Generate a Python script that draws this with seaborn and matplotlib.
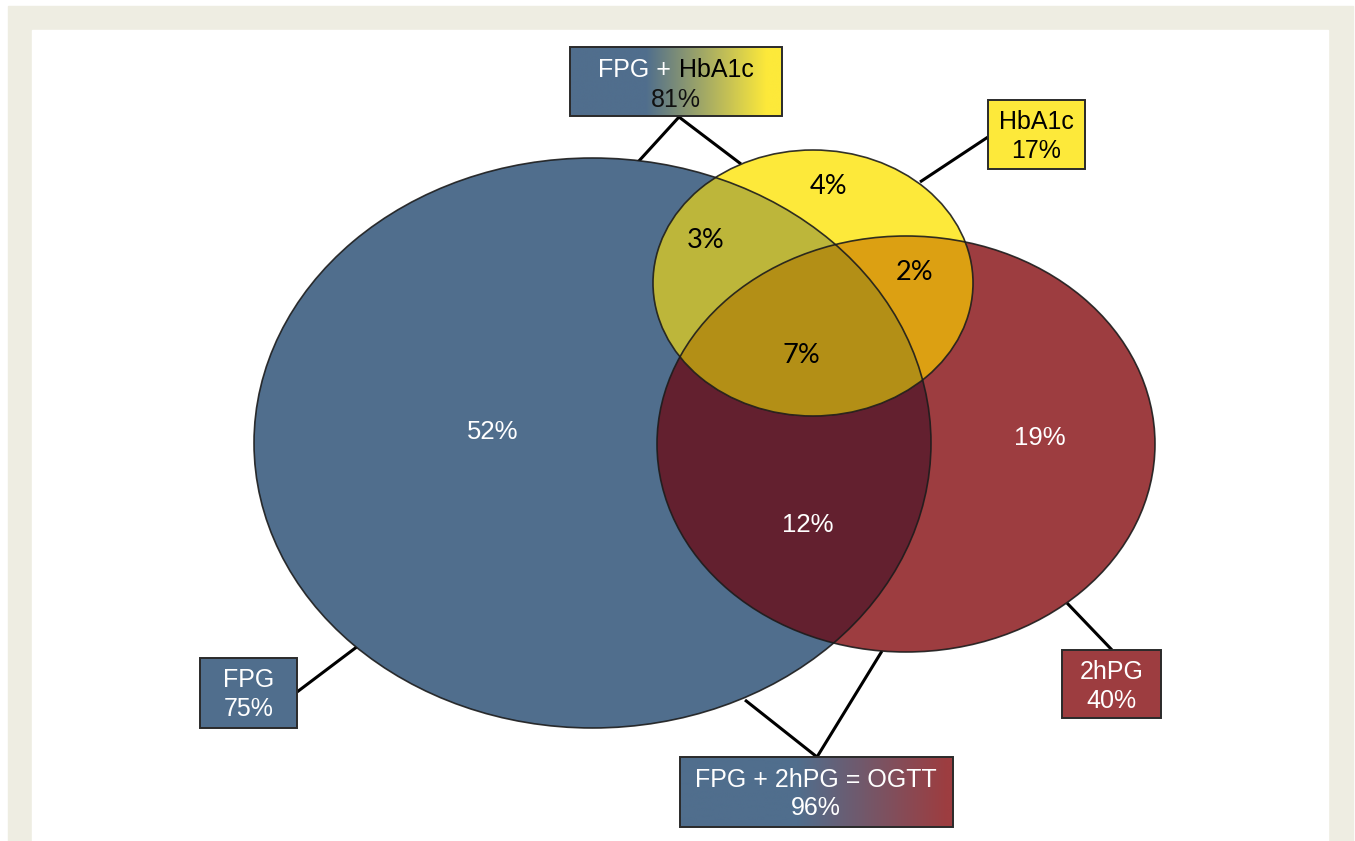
import numpy as np
import pandas as pd
import seaborn as sns
import matplotlib.pyplot as plt
from matplotlib.patches import Ellipse, Polygon, Rectangle
from matplotlib.colors import LinearSegmentedColormap

# --- data -------------------------------------------------------------
set_names = ['FPG', 'HbA1c', '2hPG']
set_totals = [75, 17, 40]

combo_names = ['FPG + HbA1c', 'FPG + 2hPG = OGTT']
combo_totals = [81, 96]

region_keys = ['F', 'H', 'P', 'FH', 'HP', 'FP', 'FHP']
region_values = [52, 4, 19, 3, 2, 12, 7]

# --- style ------------------------------------------------------------
sns.set_style('white')
plt.rcParams['font.family'] = ['Liberation Sans', 'DejaVu Sans']

blue = '#506E8D'
red = '#9D3D40'
yellow = '#FDE93A'
region_colors = {'F': blue, 'H': yellow, 'P': red,
                 'FH': '#BDB63A', 'HP': '#DCA012', 'FP': '#63202F', 'FHP': '#B38F16'}
edge = '#1c1c1c'

# ellipse geometry in pixel space (cx, cy, w, h)
geom = {'F': (592.5, 443, 677, 570),
        'P': (906, 444, 498, 416),
        'H': (813, 283, 320, 266)}


def ell_pts(e, n=1440):
    cx, cy, w, h = e
    t = np.linspace(0, 2 * np.pi, n, endpoint=False)
    return np.column_stack([cx + w / 2 * np.cos(t), cy + h / 2 * np.sin(t)])


def inside(p, e):
    cx, cy, w, h = e
    return ((p[:, 0] - cx) / (w / 2)) ** 2 + ((p[:, 1] - cy) / (h / 2)) ** 2 <= 1 + 1e-9


def intersect(keys):
    # convex intersection of ellipses -> polygon sorted by angle
    ells = [geom[k] for k in keys]
    pts = []
    for i, e in enumerate(ells):
        p = ell_pts(e)
        mask = np.ones(len(p), bool)
        for j, o in enumerate(ells):
            if j != i:
                mask &= inside(p, o)
        pts.append(p[mask])
    pts = np.vstack(pts)
    c = pts.mean(axis=0)
    order = np.argsort(np.arctan2(pts[:, 1] - c[1], pts[:, 0] - c[0]))
    return pts[order]


fig = plt.figure(figsize=(13.55, 8.41), dpi=100)
fig.patch.set_facecolor('white')
ax = fig.add_axes([0, 0, 1, 1])
ax.set_xlim(0, 1355)
ax.set_ylim(841, 0)
ax.axis('off')

# frame
ax.add_patch(Rectangle((8, 6), 1345, 840, color='#EEEDE2', zorder=0))
ax.add_patch(Rectangle((32, 30), 1296, 820, color='white', zorder=0))

# connectors (drawn under the shapes)
lines = [[(638, 162), (679, 117), (741, 164)],
         [(920, 182), (988, 137)],
         [(297, 692), (358, 646)],
         [(1067, 603), (1112, 650)],
         [(745, 700), (817, 757), (882, 651)]]
for ln in lines:
    xs, ys = zip(*ln)
    ax.plot(xs, ys, color='black', lw=2.2, zorder=1, solid_capstyle='butt')

# base ellipses, then overlaps
for k in ['F', 'P', 'H']:
    cx, cy, w, h = geom[k]
    ax.add_patch(Ellipse((cx, cy), w, h, facecolor=region_colors[k], edgecolor='none', zorder=2))
for k in ['FP', 'FH', 'HP', 'FHP']:
    ax.add_patch(Polygon(intersect(list(k)), closed=True, facecolor=region_colors[k],
                         edgecolor='none', zorder=3))
for k in ['F', 'P', 'H']:
    cx, cy, w, h = geom[k]
    ax.add_patch(Ellipse((cx, cy), w, h, facecolor='none', edgecolor=edge, lw=1.2, zorder=4, alpha=0.9))

# region labels
region_pos = {'F': (493, 432), 'H': (829, 186), 'P': (1040, 438), 'FH': (706, 240),
              'HP': (915, 272), 'FP': (808, 525), 'FHP': (801, 355)}
df = pd.DataFrame({'key': region_keys, 'value': region_values})
for _, r in df.iterrows():
    x, y = region_pos[r['key']]
    dark = r['key'] in ('F', 'P', 'FP')
    ax.text(x, y, f"{r['value']}%", ha='center', va='center', zorder=5,
            color='white' if dark else 'black',
            fontsize=18.5 if dark else 19.5,
            family=['Liberation Sans'] if dark else ['Lato', 'DejaVu Sans'])


def box(x0, y0, x1, y1, colors=None, stops=None, face=None):
    if face is not None:
        ax.add_patch(Rectangle((x0, y0), x1 - x0, y1 - y0, facecolor=face, edgecolor='#2a2a2a',
                               lw=1.4, zorder=6))
        return
    cmap = LinearSegmentedColormap.from_list('g', list(zip(stops, colors)))
    grad = np.linspace(0, 1, 256)[None, :]
    ax.imshow(grad, cmap=cmap, extent=(x0, x1, y1, y0), aspect='auto', zorder=6,
              interpolation='bilinear')
    ax.add_patch(Rectangle((x0, y0), x1 - x0, y1 - y0, facecolor='none', edgecolor='#2a2a2a',
                           lw=1.4, zorder=7))


fs = 18
# single-set boxes
single_boxes = {'FPG': ((200, 658, 297, 728), blue, 'white'),
                'HbA1c': ((988, 100, 1085, 169), yellow, 'black'),
                '2hPG': ((1062, 650, 1161, 718), red, 'white')}
for name, tot in zip(set_names, set_totals):
    (x0, y0, x1, y1), fc, tc = single_boxes[name]
    box(x0, y0, x1, y1, face=fc)
    xm = (x0 + x1) / 2
    ax.text(xm, y0 + 22, name, ha='center', va='center', color=tc, fontsize=fs, zorder=8)
    ax.text(xm, y0 + 51, f'{tot}%', ha='center', va='center', color=tc, fontsize=fs, zorder=8)

# combined boxes
box(570, 47, 782, 116, colors=[blue, blue, yellow, yellow], stops=[0, 0.36, 0.93, 1])
ax.text(671, 70, 'FPG +', ha='right', va='center', color='white', fontsize=fs, zorder=8)
ax.text(679, 70, 'HbA1c', ha='left', va='center', color='black', fontsize=fs, zorder=8)
ax.text(676, 100, f'{combo_totals[0]}%', ha='center', va='center', color='#111111', fontsize=fs, zorder=8)

box(680, 757, 953, 827, colors=[blue, blue, red, red], stops=[0, 0.43, 0.98, 1])
ax.text(816, 780, combo_names[1], ha='center', va='center', color='white', fontsize=fs, zorder=8)
ax.text(816, 808, f'{combo_totals[1]}%', ha='center', va='center', color='white', fontsize=fs, zorder=8)

fig.savefig('out.png', dpi=100)
